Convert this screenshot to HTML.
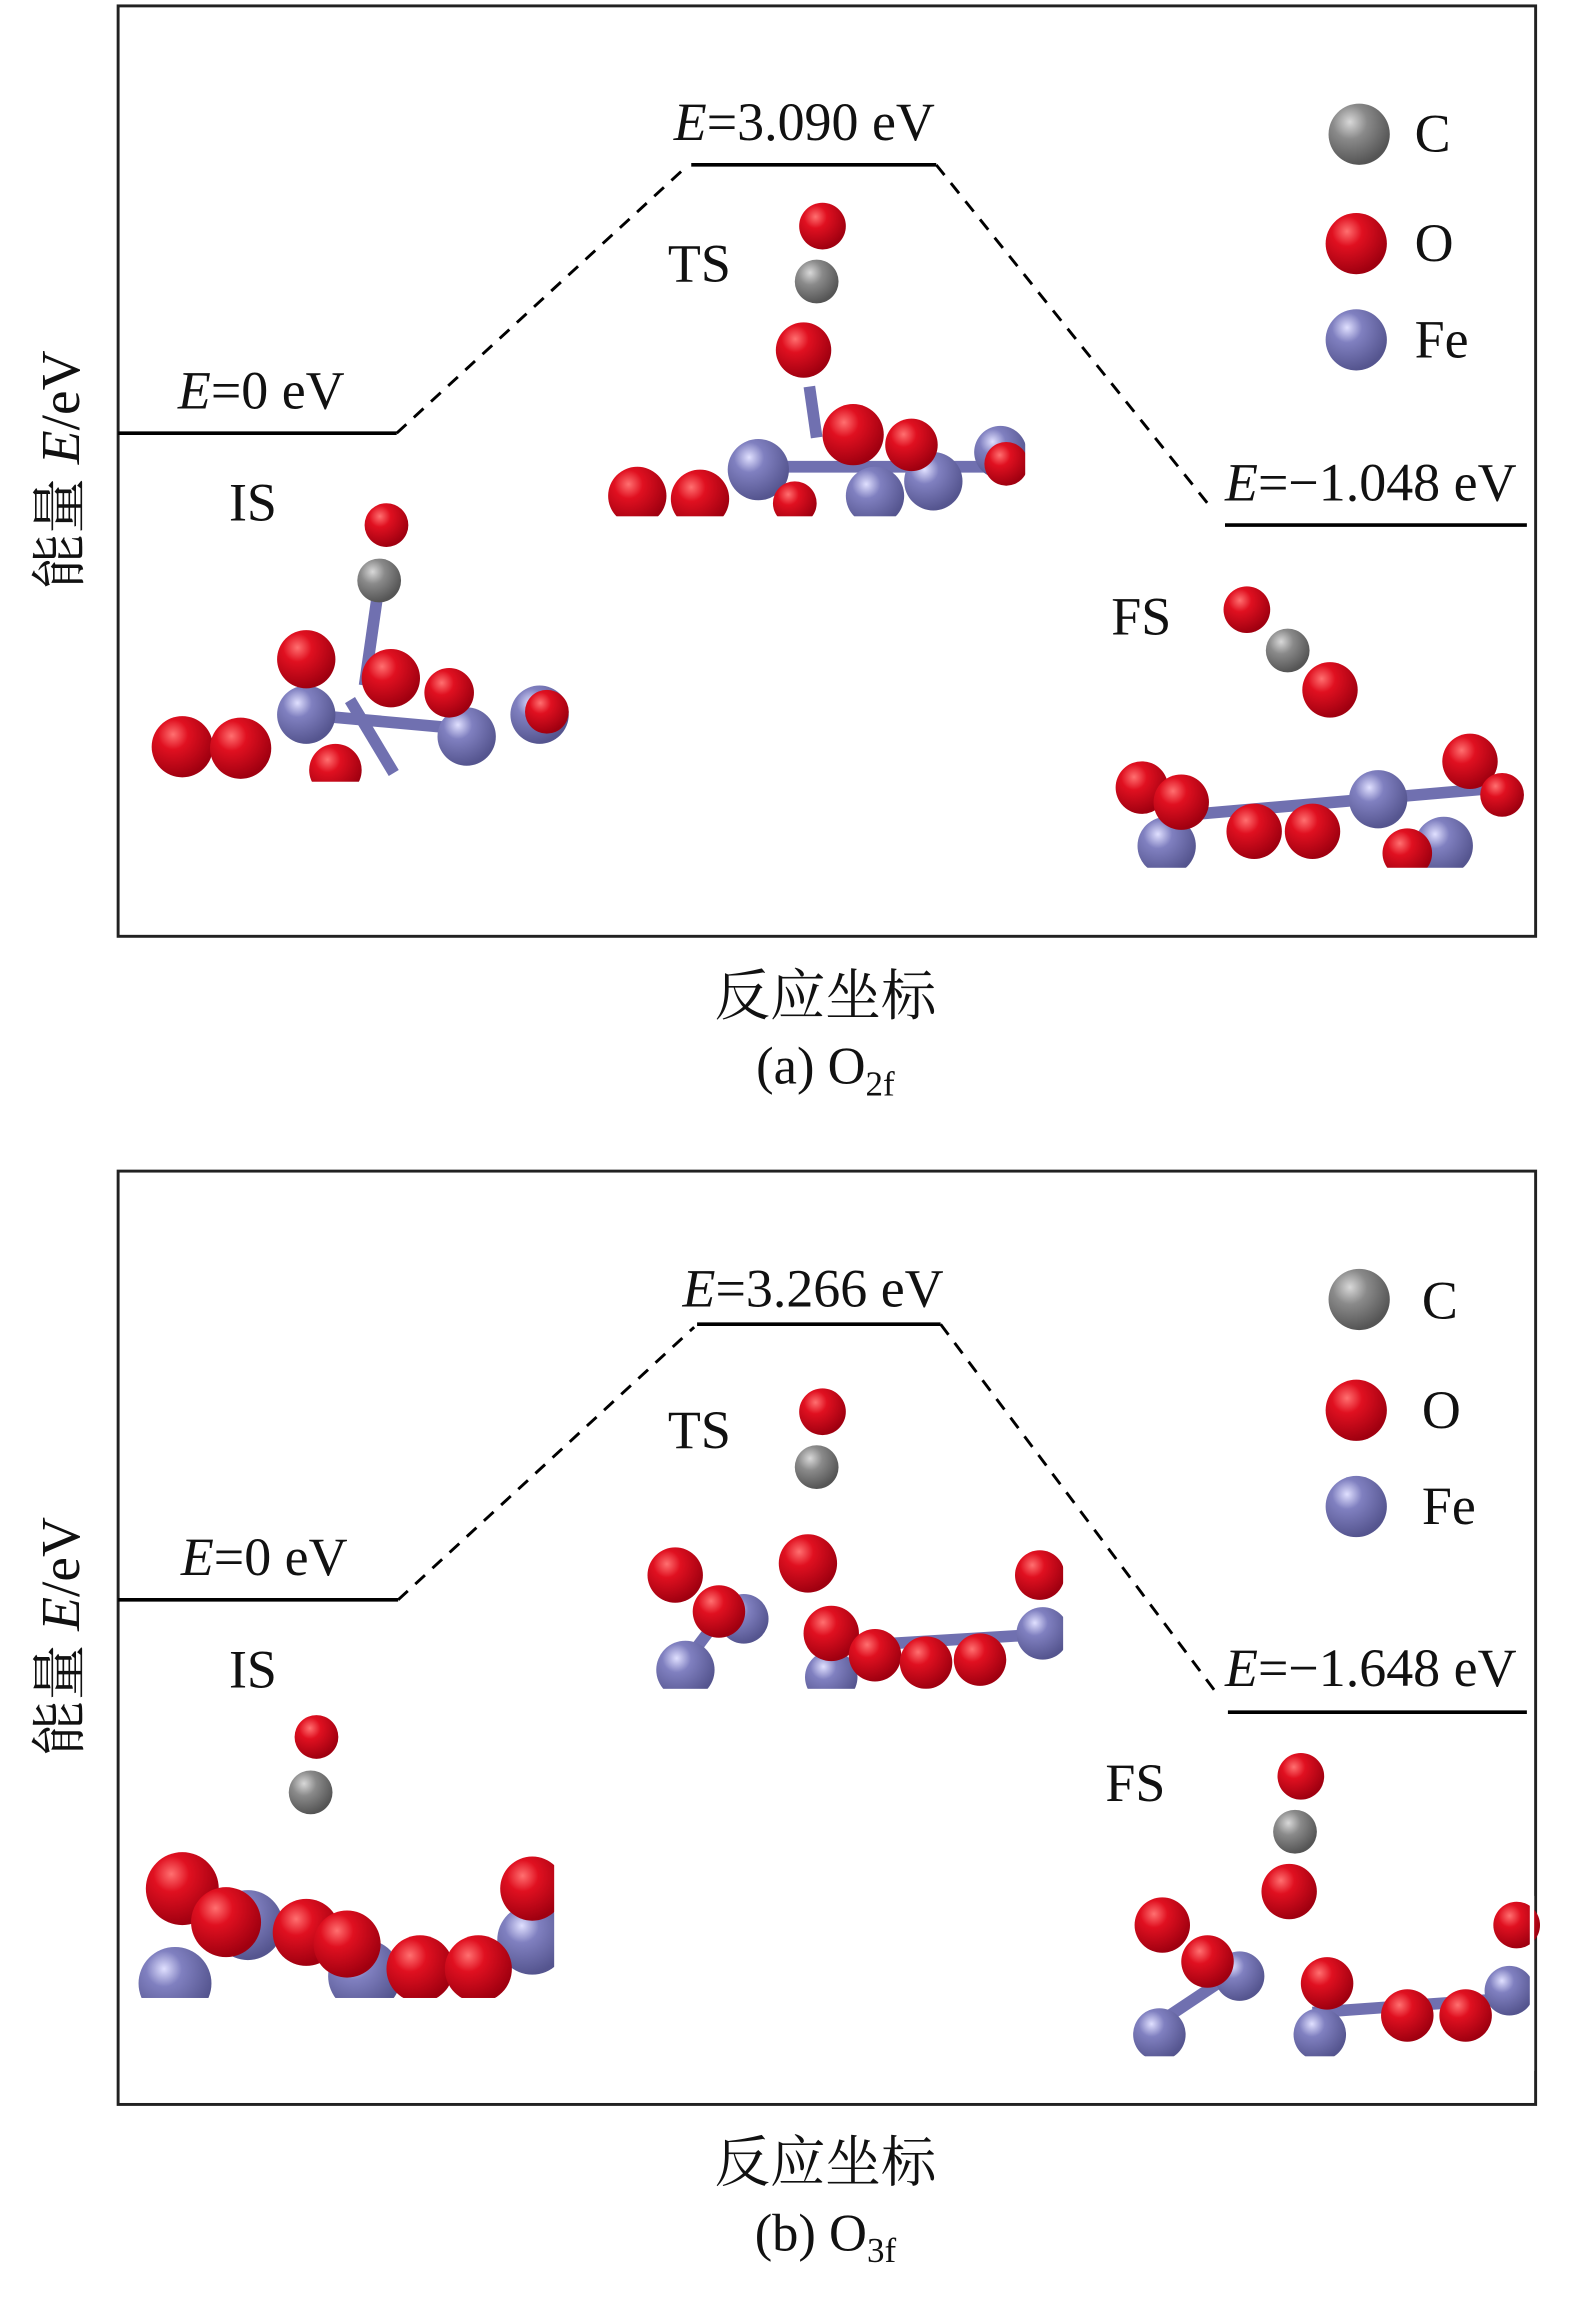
<!DOCTYPE html>
<html><head><meta charset="utf-8"><style>
html,body{margin:0;padding:0;background:#fff;}
svg{display:block;}
text{font-family:"Liberation Serif","Noto Serif CJK SC",serif;fill:#111;}
</style></head><body>
<svg width="1575" height="2297" viewBox="0 0 1080 1575" xmlns="http://www.w3.org/2000/svg">
<defs>
<radialGradient id="gr" cx="35%" cy="30%" r="70%"><stop offset="0" stop-color="#ff7070"/><stop offset="0.35" stop-color="#e01020"/><stop offset="1" stop-color="#a00010"/></radialGradient>
<radialGradient id="gg" cx="35%" cy="30%" r="70%"><stop offset="0" stop-color="#d8d8d8"/><stop offset="0.4" stop-color="#8a8a8a"/><stop offset="1" stop-color="#555"/></radialGradient>
<radialGradient id="gb" cx="35%" cy="30%" r="70%"><stop offset="0" stop-color="#e0e0ff"/><stop offset="0.35" stop-color="#8080c0"/><stop offset="1" stop-color="#55558f"/></radialGradient>
</defs>

<!-- ===== Panel a ===== -->
<g>
<rect x="81" y="4" width="972" height="638" fill="none" stroke="#222" stroke-width="2"/>
<g stroke="#000" stroke-width="2.5"><line x1="81" y1="297" x2="272" y2="297"/><line x1="474" y1="113" x2="642" y2="113"/><line x1="840" y1="360" x2="1047" y2="360"/></g>
<g stroke="#000" stroke-width="2" stroke-dasharray="9,7" fill="none"><line x1="272" y1="297" x2="472" y2="113"/><line x1="642" y1="113" x2="832" y2="350"/></g>
<text x="122" y="280" font-size="37"><tspan font-style="italic">E</tspan>=0 eV</text>
<text x="462" y="96" font-size="37"><tspan font-style="italic">E</tspan>=3.090 eV</text>
<text x="840" y="343" font-size="37"><tspan font-style="italic">E</tspan>=−1.048 eV</text>
<text x="157" y="357" font-size="37">IS</text>
<text x="458" y="193" font-size="37">TS</text>
<text x="762" y="435" font-size="37">FS</text>
<circle cx="932" cy="92" r="21" fill="url(#gg)"/><text x="970" y="104" font-size="37">C</text>
<circle cx="930" cy="167" r="21" fill="url(#gr)"/><text x="970" y="179" font-size="37">O</text>
<circle cx="930" cy="233" r="21" fill="url(#gb)"/><text x="970" y="245" font-size="37">Fe</text>
<text transform="translate(54,322) rotate(-90)" font-size="38" text-anchor="middle">能量 <tspan font-style="italic">E</tspan>/eV</text>
<text x="566" y="696" font-size="38" text-anchor="middle">反应坐标</text>
<text x="566" y="743" font-size="36" text-anchor="middle">(a) O<tspan font-size="24" dy="8">2f</tspan></text>
<!-- IS cluster -->
<g stroke="#7070b0" stroke-width="8"><line x1="260" y1="400" x2="250" y2="470"/><line x1="210" y1="490" x2="320" y2="500"/><line x1="240" y1="480" x2="270" y2="530"/></g>
<circle cx="265" cy="360" r="15" fill="url(#gr)"/><circle cx="260" cy="398" r="15" fill="url(#gg)"/>
<circle cx="370" cy="490" r="20" fill="url(#gb)"/><circle cx="320" cy="505" r="20" fill="url(#gb)"/><circle cx="210" cy="490" r="20" fill="url(#gb)"/>
<circle cx="210" cy="452" r="20" fill="url(#gr)"/><circle cx="268" cy="465" r="20" fill="url(#gr)"/><circle cx="308" cy="475" r="17" fill="url(#gr)"/>
<circle cx="125" cy="512" r="21" fill="url(#gr)"/><circle cx="165" cy="513" r="21" fill="url(#gr)"/><circle cx="230" cy="528" r="18" fill="url(#gr)"/><circle cx="375" cy="488" r="15" fill="url(#gr)"/>
<rect x="100" y="536" width="300" height="20" fill="#fff"/>
<!-- TS cluster -->
<g stroke="#7070b0" stroke-width="8"><line x1="555" y1="265" x2="560" y2="300"/><line x1="520" y1="320" x2="690" y2="320"/></g>
<circle cx="564" cy="155" r="16" fill="url(#gr)"/><circle cx="560" cy="193" r="15" fill="url(#gg)"/><circle cx="551" cy="240" r="19" fill="url(#gr)"/>
<circle cx="520" cy="322" r="21" fill="url(#gb)"/><circle cx="640" cy="330" r="20" fill="url(#gb)"/><circle cx="686" cy="310" r="18" fill="url(#gb)"/>
<circle cx="585" cy="298" r="21" fill="url(#gr)"/><circle cx="625" cy="305" r="18" fill="url(#gr)"/><circle cx="690" cy="318" r="15" fill="url(#gr)"/>
<circle cx="437" cy="340" r="20" fill="url(#gr)"/><circle cx="480" cy="342" r="20" fill="url(#gr)"/><circle cx="545" cy="345" r="15" fill="url(#gr)"/><circle cx="600" cy="340" r="20" fill="url(#gb)"/>
<rect x="410" y="354" width="300" height="20" fill="#fff"/><rect x="703" y="280" width="20" height="90" fill="#fff"/>
<!-- FS cluster -->
<circle cx="855" cy="418" r="16" fill="url(#gr)"/><circle cx="883" cy="446" r="15" fill="url(#gg)"/><circle cx="912" cy="473" r="19" fill="url(#gr)"/>
<g stroke="#7070b0" stroke-width="8"><line x1="800" y1="560" x2="1030" y2="540"/></g>
<circle cx="800" cy="580" r="20" fill="url(#gb)"/><circle cx="945" cy="548" r="20" fill="url(#gb)"/><circle cx="990" cy="580" r="20" fill="url(#gb)"/>
<circle cx="783" cy="540" r="18" fill="url(#gr)"/><circle cx="810" cy="550" r="19" fill="url(#gr)"/><circle cx="860" cy="570" r="19" fill="url(#gr)"/><circle cx="900" cy="570" r="19" fill="url(#gr)"/><circle cx="965" cy="585" r="17" fill="url(#gr)"/><circle cx="1008" cy="522" r="19" fill="url(#gr)"/><circle cx="1030" cy="545" r="15" fill="url(#gr)"/>
<rect x="750" y="595" width="300" height="20" fill="#fff"/>
</g>

<!-- ===== Panel b ===== -->
<g>
<rect x="81" y="803" width="972" height="640" fill="none" stroke="#222" stroke-width="2"/>
<g stroke="#000" stroke-width="2.5"><line x1="81" y1="1097" x2="273" y2="1097"/><line x1="478" y1="908" x2="645" y2="908"/><line x1="842" y1="1174" x2="1047" y2="1174"/></g>
<g stroke="#000" stroke-width="2" stroke-dasharray="9,7" fill="none"><line x1="273" y1="1097" x2="476" y2="910"/><line x1="645" y1="908" x2="835" y2="1162"/></g>
<text x="124" y="1080" font-size="37"><tspan font-style="italic">E</tspan>=0 eV</text>
<text x="468" y="896" font-size="37"><tspan font-style="italic">E</tspan>=3.266 eV</text>
<text x="840" y="1156" font-size="37"><tspan font-style="italic">E</tspan>=−1.648 eV</text>
<text x="157" y="1157" font-size="37">IS</text>
<text x="458" y="993" font-size="37">TS</text>
<text x="758" y="1235" font-size="37">FS</text>
<circle cx="932" cy="891" r="21" fill="url(#gg)"/><text x="975" y="904" font-size="37">C</text>
<circle cx="930" cy="967" r="21" fill="url(#gr)"/><text x="975" y="979" font-size="37">O</text>
<circle cx="930" cy="1033" r="21" fill="url(#gb)"/><text x="975" y="1045" font-size="37">Fe</text>
<text transform="translate(54,1122) rotate(-90)" font-size="38" text-anchor="middle">能量 <tspan font-style="italic">E</tspan>/eV</text>
<text x="566" y="1496" font-size="38" text-anchor="middle">反应坐标</text>
<text x="566" y="1543" font-size="36" text-anchor="middle">(b) O<tspan font-size="24" dy="8">3f</tspan></text>
<!-- IS -->
<circle cx="217" cy="1191" r="15" fill="url(#gr)"/><circle cx="213" cy="1229" r="15" fill="url(#gg)"/>
<circle cx="120" cy="1360" r="25" fill="url(#gb)"/><circle cx="170" cy="1320" r="24" fill="url(#gb)"/><circle cx="250" cy="1355" r="25" fill="url(#gb)"/><circle cx="365" cy="1330" r="24" fill="url(#gb)"/>
<circle cx="125" cy="1295" r="25" fill="url(#gr)"/><circle cx="155" cy="1318" r="24" fill="url(#gr)"/><circle cx="210" cy="1325" r="23" fill="url(#gr)"/><circle cx="238" cy="1333" r="23" fill="url(#gr)"/><circle cx="288" cy="1350" r="23" fill="url(#gr)"/><circle cx="328" cy="1350" r="23" fill="url(#gr)"/><circle cx="365" cy="1295" r="22" fill="url(#gr)"/>
<rect x="90" y="1370" width="300" height="30" fill="#fff"/><rect x="380" y="1260" width="20" height="120" fill="#fff"/>
<!-- TS -->
<circle cx="564" cy="968" r="16" fill="url(#gr)"/><circle cx="560" cy="1006" r="15" fill="url(#gg)"/><circle cx="554" cy="1072" r="20" fill="url(#gr)"/>
<g stroke="#7070b0" stroke-width="8"><line x1="470" y1="1140" x2="500" y2="1100"/><line x1="560" y1="1130" x2="725" y2="1120"/></g>
<circle cx="470" cy="1145" r="20" fill="url(#gb)"/><circle cx="510" cy="1110" r="17" fill="url(#gb)"/><circle cx="570" cy="1150" r="18" fill="url(#gb)"/><circle cx="715" cy="1120" r="18" fill="url(#gb)"/>
<circle cx="463" cy="1080" r="19" fill="url(#gr)"/><circle cx="493" cy="1105" r="18" fill="url(#gr)"/><circle cx="570" cy="1120" r="19" fill="url(#gr)"/><circle cx="600" cy="1135" r="18" fill="url(#gr)"/><circle cx="635" cy="1140" r="18" fill="url(#gr)"/><circle cx="672" cy="1138" r="18" fill="url(#gr)"/><circle cx="713" cy="1080" r="17" fill="url(#gr)"/>
<rect x="440" y="1158" width="300" height="20" fill="#fff"/><rect x="729" y="1050" width="20" height="120" fill="#fff"/>
<!-- FS -->
<circle cx="892" cy="1218" r="16" fill="url(#gr)"/><circle cx="888" cy="1256" r="15" fill="url(#gg)"/><circle cx="884" cy="1297" r="19" fill="url(#gr)"/>
<g stroke="#7070b0" stroke-width="8"><line x1="790" y1="1390" x2="850" y2="1350"/><line x1="900" y1="1380" x2="1040" y2="1370"/></g>
<circle cx="795" cy="1395" r="18" fill="url(#gb)"/><circle cx="850" cy="1355" r="17" fill="url(#gb)"/><circle cx="905" cy="1395" r="18" fill="url(#gb)"/><circle cx="1035" cy="1365" r="17" fill="url(#gb)"/>
<circle cx="797" cy="1320" r="19" fill="url(#gr)"/><circle cx="828" cy="1345" r="18" fill="url(#gr)"/><circle cx="910" cy="1360" r="18" fill="url(#gr)"/><circle cx="965" cy="1382" r="18" fill="url(#gr)"/><circle cx="1005" cy="1382" r="18" fill="url(#gr)"/><circle cx="1040" cy="1320" r="16" fill="url(#gr)"/>
<rect x="760" y="1410" width="290" height="20" fill="#fff"/><rect x="1049" y="1300" width="3" height="120" fill="#fff"/>
</g>
</svg>
</body></html>
